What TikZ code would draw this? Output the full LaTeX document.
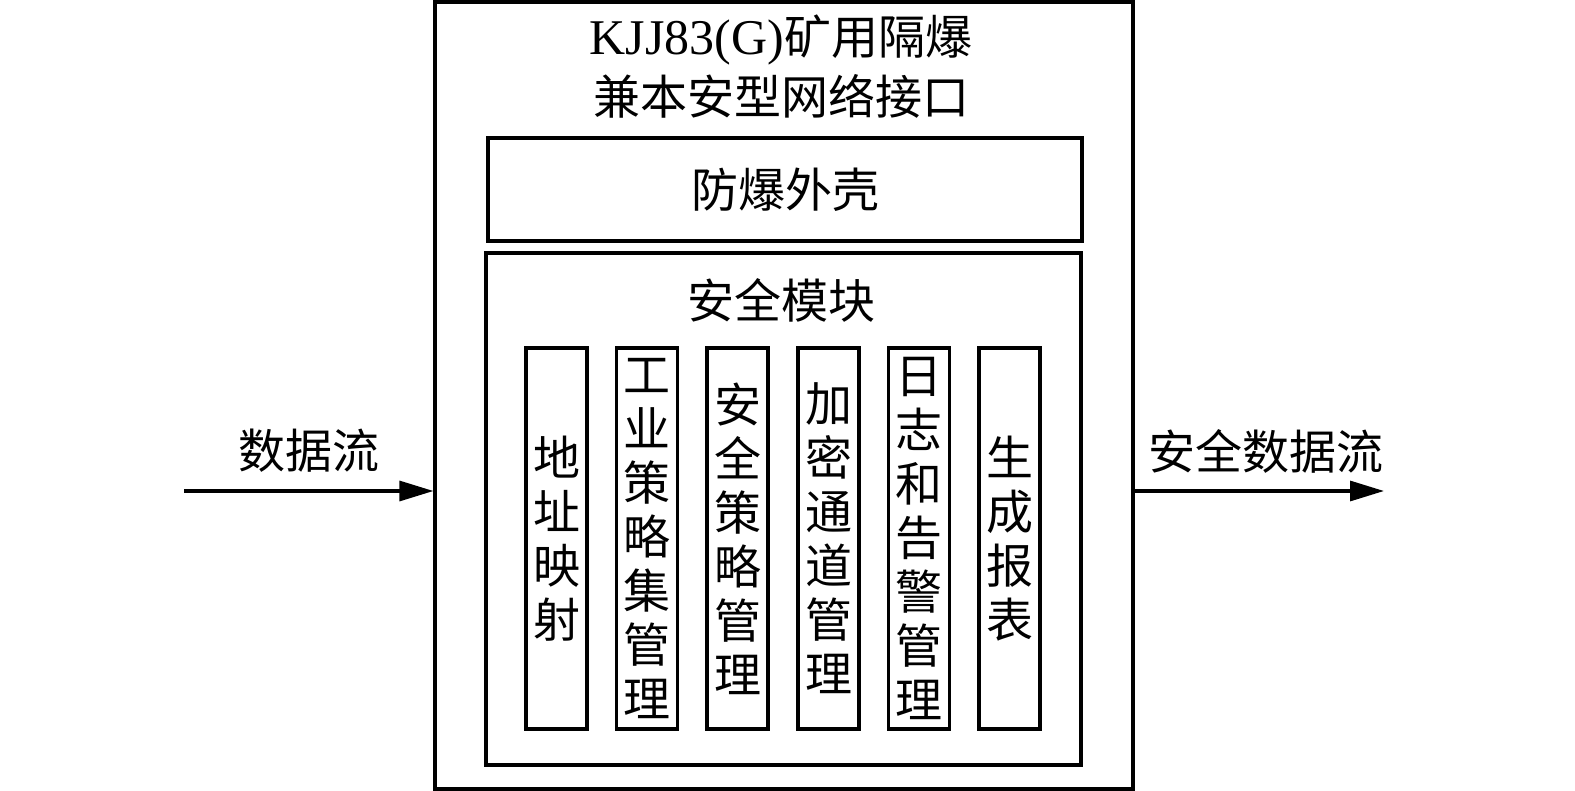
\documentclass[tikz,border=0pt]{standalone}
\usepackage{fontspec}
\setmainfont{Liberation Serif}
\newfontfamily\cjk{Noto Sans CJK SC}
\usetikzlibrary{arrows.meta}
\begin{document}
\begin{tikzpicture}[x=0.5pt,y=-0.5pt,
  box/.style={draw,line width=1.6pt,inner sep=0pt,align=center},
  txt/.style={font=\cjk\fontsize{23.5}{26.5}\selectfont,inner sep=0pt,align=center},
  col/.style={box,font=\cjk\fontsize{23.5}{27}\selectfont,minimum width=30.5pt,minimum height=190.5pt},
  arr/.style={line width=1.6pt,-{Triangle[length=17pt,width=10pt]}}]
\useasboundingbox (0,0) rectangle (1575,791);
\node[box,minimum width=349pt,minimum height=393.5pt] (outer) at (784,395.5) {};
\node[txt] (t1) at (781,40) {{\rmfamily\fontsize{25}{26.5}\selectfont KJJ83(G)}矿用隔爆};
\node[txt] (t2) at (781,96) {兼本安型网络接口};
\node[box,txt,draw,minimum width=297pt,minimum height=51.5pt] (shell) at (785,189.5) {防爆外壳};
\node[box,minimum width=297.5pt,minimum height=256pt] (mod) at (783.5,509) {};
\node[txt] (modt) at (781,300) {安全模块};
\node[col] (c1) at (556.5,538.5) {地\\址\\映\\射};
\node[col] (c2) at (647,538.5) {工\\业\\策\\略\\集\\管\\理};
\node[col] (c3) at (737.5,538.5) {安\\全\\策\\略\\管\\理};
\node[col] (c4) at (828.5,538.5) {加\\密\\通\\道\\管\\理};
\node[col] (c5) at (919,538.5) {日\\志\\和\\告\\警\\管\\理};
\node[col] (c6) at (1009.5,538.5) {生\\成\\报\\表};
\coordinate (inL) at (184,491);
\coordinate (outR) at (1384,491);
\draw[arr] (inL) -- (inL -| outer.west);
\draw[arr] (outR -| outer.east) -- (outR);
\node[txt] (lin) at (309,451) {数据流};
\node[txt] (lout) at (1266,451) {安全数据流};
\end{tikzpicture}
\end{document}
